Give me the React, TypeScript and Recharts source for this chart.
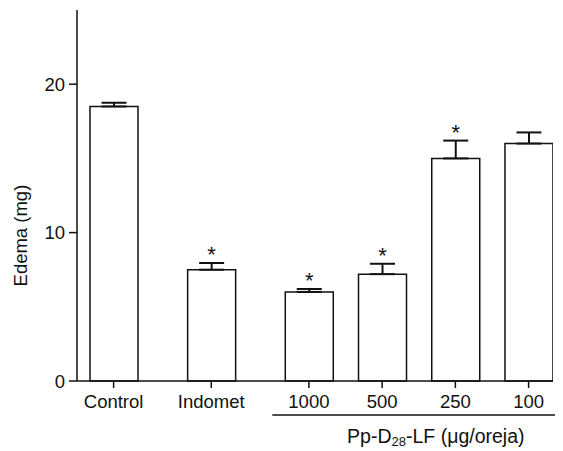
import React from "react";
import { BarChart, Bar, XAxis, YAxis, ErrorBar, LabelList } from "recharts";

const categories = ["Control", "Indomet", "1000", "500", "250", "100"];
const means = [18.5, 7.5, 6.0, 7.2, 15.0, 16.0];
const sems = [0.25, 0.45, 0.2, 0.7, 1.2, 0.75];
const significant = [false, true, true, true, true, false];
const yTicks = [0, 10, 20];

// layout: slot positions on a numeric x axis (groups separated by wider gaps)
const slotPositions = [1.5, 5.5, 9.5, 12.5, 15.5, 18.5];
const xDomainMax = 19.5;

const INK = "#111";
const FONT = "'Liberation Sans', Arial, sans-serif";

const data = categories.map((c, i) => ({
  pos: slotPositions[i],
  name: c,
  mean: means[i],
  err: [0, sems[i]],
  sig: significant[i] ? "*" : "",
}));

const tickFmt = (v: number) => {
  const i = slotPositions.indexOf(v);
  return i >= 0 ? categories[i] : "";
};

const StarLabel = (props: any) => {
  const { x, y, width, height, index } = props;
  if (!significant[index]) return null;
  const pxPerUnit = height / means[index];
  const errTop = y - sems[index] * pxPerUnit;
  return (
    <text x={x + width / 2} y={errTop - 1} textAnchor="middle" fontSize={22} fontFamily={FONT} fill={INK}>
      *
    </text>
  );
};

const GroupLabel = (props: any) => {
  const vb = props.viewBox || {};
  const unit = vb.width / xDomainMax;
  const x1 = vb.x + 8.0 * unit;
  const x2 = vb.x + 19.7 * unit;
  const cx = vb.x + 14.7 * unit;
  const ly = vb.y + 34;
  return (
    <g>
      <line x1={x1} x2={x2} y1={ly} y2={ly} stroke={INK} strokeWidth={1.5} />
      <text x={cx} y={vb.y + 62} textAnchor="middle" fontSize={19.5} fontFamily={FONT} fill={INK}>
        Pp-D
        <tspan fontSize={13} dy={3}>28</tspan>
        <tspan dy={-3}>-LF (μg/oreja)</tspan>
      </text>
    </g>
  );
};

const YLabel = (props: any) => {
  const vb = props.viewBox || {};
  const cx = vb.x + 13;
  const cy = vb.y + vb.height * 0.608;
  return (
    <text
      x={cx}
      y={cy}
      textAnchor="middle"
      dominantBaseline="central"
      transform={`rotate(-90, ${cx}, ${cy})`}
      fontSize={18.5}
      fontFamily={FONT}
      fill={INK}
    >
      Edema (mg)
    </text>
  );
};

export default function App() {
  return (
    <BarChart
      width={555}
      height={443}
      data={data}
      margin={{ top: 2, right: 10, bottom: 0, left: 0 }}
      style={{ fontFamily: FONT }}
    >
      <XAxis
        dataKey="pos"
        type="number"
        domain={[0, xDomainMax]}
        ticks={slotPositions}
        tickFormatter={tickFmt}
        interval={0}
        height={70}
        tickSize={7}
        tickMargin={7}
        axisLine={{ stroke: INK, strokeWidth: 1.5 }}
        tickLine={{ stroke: INK, strokeWidth: 1.5 }}
        tick={{ fill: INK, fontSize: 18.5, fontFamily: FONT }}
        allowDataOverflow
        label={<GroupLabel />}
      />
      <YAxis
        type="number"
        domain={[0, 25]}
        ticks={yTicks}
        width={69}
        tickSize={8}
        tickMargin={4}
        axisLine={{ stroke: INK, strokeWidth: 1.5 }}
        tickLine={{ stroke: INK, strokeWidth: 1.5 }}
        tick={{ fill: INK, fontSize: 18.5, fontFamily: FONT }}
        label={<YLabel />}
      />
      <Bar dataKey="mean" barSize={48} fill="#fff" stroke={INK} strokeWidth={1.5} isAnimationActive={false}>
        <ErrorBar dataKey="err" width={12.5} stroke={INK} strokeWidth={2} direction="y" />
        <LabelList dataKey="sig" content={<StarLabel />} />
      </Bar>
    </BarChart>
  );
}
